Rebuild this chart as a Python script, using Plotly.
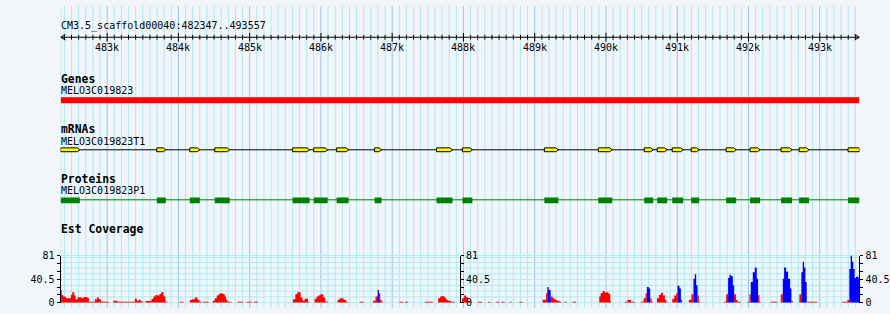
import plotly.graph_objects as go

# ---------------- data ----------------
REGION_START = 482347
REGION_END = 493557
REGION_LABEL = "CM3.5_scaffold00040:482347..493557"
TRACK_TITLES = ["Genes", "mRNAs", "Proteins", "Est Coverage"]
GENE_NAME = "MELO3C019823"
MRNA_NAME = "MELO3C019823T1"
PROTEIN_NAME = "MELO3C019823P1"

gene_start = [482347]
gene_end = [493557]

exon_start = [482347, 483697, 484159, 484510, 485603, 485898, 486220, 486753, 487622, 487986,
              489135, 489892, 490537, 490719, 490929, 491196, 491686, 492022, 492457, 492710, 493397]
exon_end = [482617, 483823, 484300, 484720, 485841, 486094, 486388, 486851, 487846, 488126,
            489332, 490088, 490663, 490859, 491084, 491308, 491827, 492163, 492612, 492850, 493557]

# EST coverage, strand 1 (red): bin start, bin end, depth
red_start = [482360, 482384, 482421, 482491, 482510, 482538, 482557, 482585, 482641, 482669, 482725, 482744,
             482828, 482856, 482884, 482912, 482940, 483085, 483145, 483388, 483416, 483444, 483472, 483538,
             483622, 483650, 483678, 483706, 483734, 483762, 483790, 483818, 484014, 484159, 484192, 484229,
             484267, 484295, 484341, 484482, 484510, 484538, 484566, 484594, 484622, 484650, 484668, 484687,
             484827, 484958, 485061, 485608, 485640, 485668, 485715, 485743, 485771, 485818, 485911, 485939,
             485967, 485995, 486033, 486061, 486234, 486262, 486318, 486356, 486542, 486729, 486766, 486795,
             486813, 486832, 486851, 487103, 487178, 487458, 487645, 487673, 487701, 487729, 487757, 487785,
             487822, 487981, 488009, 488037, 488065, 488084, 488206, 488346, 488458, 488533, 488645, 488785,
             489112, 489159, 489224, 489252, 489280, 489308, 489346, 489420, 489532, 489906, 489925, 489953,
             489981, 490005, 490033, 490061, 490266, 490303, 490350, 490490, 490528, 490556, 490621, 490640,
             490715, 490743, 490771, 490799, 490827, 490845, 490930, 490958, 490986, 491051, 491163, 491200,
             491285, 491303, 491658, 491686, 491798, 491826, 491845, 491986, 492013, 492135, 492154, 492313,
             492453, 492602, 492714, 492817, 493312, 493387]
red_end = [482384, 482421, 482491, 482510, 482538, 482557, 482585, 482641, 482669, 482725, 482744, 482828,
           482856, 482884, 482912, 482940, 483024, 483145, 483388, 483416, 483444, 483472, 483505, 483622,
           483650, 483678, 483706, 483734, 483762, 483790, 483818, 483846, 484070, 484192, 484229, 484267,
           484295, 484323, 484425, 484510, 484538, 484566, 484594, 484622, 484650, 484668, 484687, 484743,
           484907, 485033, 485117, 485640, 485668, 485715, 485743, 485771, 485818, 485836, 485939, 485967,
           485995, 486033, 486061, 486098, 486262, 486318, 486356, 486374, 486598, 486766, 486795, 486813,
           486832, 486851, 486869, 487159, 487224, 487570, 487673, 487701, 487729, 487757, 487785, 487822,
           487879, 488009, 488037, 488065, 488084, 488112, 488262, 488374, 488505, 488579, 488673, 488832,
           489159, 489177, 489252, 489280, 489308, 489346, 489374, 489448, 489579, 489925, 489953, 489981,
           490005, 490033, 490061, 490070, 490303, 490350, 490406, 490528, 490556, 490574, 490640, 490659,
           490743, 490771, 490799, 490827, 490845, 490864, 490958, 490986, 491004, 491070, 491200, 491228,
           491303, 491322, 491686, 491714, 491826, 491845, 491892, 492013, 492032, 492154, 492172, 492406,
           492481, 492621, 492742, 492967, 493387, 493415]
red_depth = [13.4, 10.6, 7.8, 13.4, 17.9, 12.3, 6.1, 9.5, 7.8, 10.0, 7.8, 1.7,
             6.1, 8.9, 6.1, 2.2, 1.7, 3.3, 1.7, 6.7, 3.3, 5.0, 2.2, 2.8,
             6.7, 10.6, 13.4, 12.3, 15.0, 18.4, 10.6, 1.7, 1.7, 4.5, 6.1, 8.9,
             5.0, 1.7, 1.7, 3.3, 7.8, 12.3, 15.6, 16.2, 15.0, 10.6, 5.6, 1.7,
             1.7, 1.7, 1.7, 6.1, 14.5, 17.9, 8.9, 3.3, 6.7, 1.7, 6.7, 10.6,
             12.8, 14.5, 8.9, 1.7, 5.0, 7.8, 4.5, 1.7, 1.7, 3.3, 10.6, 12.0,
             16.2, 5.0, 1.7, 1.7, 1.7, 1.7, 7.8, 10.6, 11.7, 8.9, 5.0, 3.3,
             1.7, 7.8, 12.3, 9.5, 3.3, 1.7, 1.7, 1.7, 1.7, 1.7, 1.7, 1.7,
             5.0, 16.2, 10.6, 7.8, 5.0, 3.3, 1.7, 1.7, 1.7, 10.6, 16.2, 20.0,
             17.0, 18.0, 15.6, 3.0, 1.7, 4.5, 1.7, 1.7, 7.8, 16.2, 7.8, 1.7,
             7.8, 13.4, 17.3, 12.3, 5.0, 1.7, 6.7, 12.3, 16.2, 5.0, 5.0, 14.5,
             12.3, 1.7, 1.7, 14.5, 14.5, 4.5, 1.7, 1.7, 14.5, 13.4, 1.7, 1.7,
             14.5, 3.3, 14.5, 1.7, 1.7, 4.5]

# EST coverage, strand 2 (blue)
blue_start = [482347, 486795, 489177, 489196, 490574, 490602, 491004, 491032, 491228, 491247, 491266,
              491714, 491733, 491752, 491780, 492032, 492060, 492088, 492116, 492481, 492500, 492528,
              492556, 492584, 492742, 492761, 492780, 492798, 493415, 493434, 493453, 493471, 493490,
              493508, 493546]
blue_end = [482360, 486813, 489196, 489224, 490602, 490621, 491032, 491051, 491247, 491266, 491285,
            491733, 491752, 491780, 491798, 492060, 492088, 492116, 492135, 492500, 492528, 492556,
            492584, 492602, 492761, 492780, 492798, 492817, 493434, 493453, 493471, 493490, 493508,
            493546, 493557]
blue_depth = [21.8, 21.8, 26.8, 21.8, 26.8, 24.6, 29.0, 24.6, 41.3, 49.0, 30.0,
              42.4, 48.0, 45.8, 30.0, 35.7, 52.5, 60.3, 41.3, 41.3, 60.3, 53.6,
              41.3, 24.6, 52.5, 70.3, 60.3, 35.7, 58.0, 81.0, 70.3, 58.0, 42.4,
              44.6, 41.3]

COV_MAX = 81
cov_tickvals = [0, 13.5, 27, 40.5, 54, 67.5, 81]
cov_ticktext = ["0", "", "", "40.5", "", "", "81"]

# ---------------- style / layout ----------------
W, H = 890, 314
X0_PX, X1_PX = 60.7, 860.4
BG = "#f2f5fa"
MINOR_GRID = "#aaecf2"
MAJOR_GRID = "#8ecaec"
FONT = "DejaVu Sans Mono"
BP_PX = (REGION_END - REGION_START) / (X1_PX - X0_PX)
COV_TOP_PX, COV_BOT_PX = 259.5, 308.5

fig = go.Figure()
shapes = []
annotations = []

# vertical grid
first = (REGION_START // 100 + 1) * 100
shapes.append(dict(type="line", xref="x", yref="paper", x0=REGION_START, x1=REGION_START, y0=0, y1=1,
                   line=dict(color=MINOR_GRID, width=1), layer="below"))
for pos in range(first, REGION_END + 1, 100):
    col = MAJOR_GRID if pos % 1000 == 0 else MINOR_GRID
    shapes.append(dict(type="line", xref="x", yref="paper", x0=pos, x1=pos, y0=0, y1=1,
                       line=dict(color=col, width=1), layer="below"))

# horizontal coverage grid
hlines = [259.5, 261.5] + [266.5 + 6 * k for k in range(8)]
for yy in hlines:
    shapes.append(dict(type="line", xref="x", yref="y", x0=REGION_START, x1=REGION_END, y0=yy, y1=yy,
                       line=dict(color=MINOR_GRID, width=1), layer="below"))

# ruler
AY = 32.5
shapes.append(dict(type="line", xref="x", yref="y", x0=REGION_START, x1=REGION_END, y0=AY, y1=AY,
                   line=dict(color="black", width=1)))
for xa, d in [(REGION_START, 1), (REGION_END, -1)]:
    for dy in (-3, 3):
        shapes.append(dict(type="line", xref="x", yref="y", x0=xa, x1=xa + d * 5 * BP_PX, y0=AY, y1=AY + dy,
                           line=dict(color="black", width=1)))
for pos in range(first, REGION_END + 1, 100):
    if pos % 1000 == 0:
        y0, y1 = 28, 37
        annotations.append(dict(xref="x", yref="y", x=pos, y=43, text=f"{pos // 1000}k", showarrow=False,
                                xanchor="center", yanchor="middle",
                                font=dict(family=FONT, size=10, color="black")))
    else:
        y0, y1 = 30, 35
    shapes.append(dict(type="line", xref="x", yref="y", x0=pos, x1=pos, y0=y0, y1=y1,
                       line=dict(color="black", width=1)))

# text labels
def label(text, y, bold=False):
    annotations.append(dict(xref="x", yref="y", x=REGION_START, y=y, xshift=-2,
                            text=f"<b>{text}</b>" if bold else text, showarrow=False,
                            xanchor="left", yanchor="middle",
                            font=dict(family=FONT, size=11.4 if bold else 10, color="black")))

label(REGION_LABEL, 21)
label(TRACK_TITLES[0], 75.5, True)
label(GENE_NAME, 88)
label(TRACK_TITLES[1], 128, True)
label(MRNA_NAME, 140.5)
label(TRACK_TITLES[2], 179.5, True)
label(PROTEIN_NAME, 192)
label(TRACK_TITLES[3], 232, True)

# gene bar
gx, gy = [], []
for s, e in zip(gene_start, gene_end):
    gx += [s, e, e, s, s, None]
    gy += [95, 95, 101, 101, 95, None]
fig.add_trace(go.Scatter(x=gx, y=gy, fill="toself", fillcolor="#ff0000", mode="lines",
                         line=dict(width=0, color="#ff0000"), hoverinfo="skip"))

# mRNA
fig.add_trace(go.Scatter(x=[min(exon_start), max(exon_end)], y=[149.5, 149.5], mode="lines",
                         line=dict(color="black", width=1), hoverinfo="skip"))
tip = 2.5 * BP_PX
mx, my = [], []
for s, e in zip(exon_start, exon_end):
    t = min(tip, (e - s) / 2)
    if e >= REGION_END:
        mx += [s, e, e, s, s, None]
        my += [147.5, 147.5, 151.5, 151.5, 147.5, None]
    else:
        mx += [s, e - t, e, e - t, s, s, None]
        my += [147.5, 147.5, 149.5, 151.5, 151.5, 147.5, None]
fig.add_trace(go.Scatter(x=mx, y=my, fill="toself", fillcolor="#ffff00", mode="lines",
                         line=dict(color="black", width=1), hoverinfo="skip"))

# protein
fig.add_trace(go.Scatter(x=[min(exon_start), max(exon_end)], y=[201.5, 201.5], mode="lines",
                         line=dict(color="#008000", width=1), hoverinfo="skip"))
px_, py_ = [], []
for s, e in zip(exon_start, exon_end):
    px_ += [s, e, e, s, s, None]
    py_ += [199, 199, 205, 205, 199, None]
fig.add_trace(go.Scatter(x=px_, y=py_, fill="toself", fillcolor="#008000", mode="lines",
                         line=dict(width=0, color="#008000"), hoverinfo="skip"))

# coverage as stepped filled areas
def steps(starts, ends, vals, color):
    xs, ys = [REGION_START], [0]
    n = len(starts)
    for i in range(n):
        xs.append(starts[i]); ys.append(vals[i])
        if i == n - 1 or starts[i + 1] != ends[i]:
            xs.append(ends[i]); ys.append(0)
    xs.append(REGION_END); ys.append(0)
    return go.Scatter(x=xs, y=ys, yaxis="y2", mode="lines", line=dict(width=0, color=color, shape="hv"),
                      fill="tozeroy", fillcolor=color, hoverinfo="skip")

fig.add_trace(steps(red_start, red_end, red_depth, "#ff0000"))
fig.add_trace(steps(blue_start, blue_end, blue_depth, "#0000ff"))
fig.add_trace(go.Scatter(x=[], y=[], yaxis="y3", hoverinfo="skip"))
fig.add_trace(go.Scatter(x=[], y=[], yaxis="y4", hoverinfo="skip"))

dom = [1 - COV_BOT_PX / H, 1 - COV_TOP_PX / H]
cov_axis = dict(range=[0, COV_MAX], tickvals=cov_tickvals, ticktext=cov_ticktext, showline=True,
                linecolor="black", linewidth=1, ticks="outside", ticklen=3, tickcolor="black",
                tickwidth=1, showgrid=False, zeroline=False, fixedrange=True,
                tickfont=dict(family=FONT, size=10, color="black"))

fig.update_layout(
    width=W, height=H, margin=dict(l=0, r=0, t=0, b=0, pad=0),
    paper_bgcolor=BG, plot_bgcolor="rgba(0,0,0,0)", showlegend=False,
    xaxis=dict(range=[REGION_START, REGION_END], domain=[X0_PX / W, X1_PX / W], visible=False,
               fixedrange=True),
    yaxis=dict(range=[H, 0], domain=[0, 1], visible=False, fixedrange=True),
    yaxis2=dict(domain=dom, anchor="x", side="left", **cov_axis),
    yaxis3=dict(overlaying="y2", anchor="free", position=(X0_PX + X1_PX) / 2 / W, side="right", **cov_axis),
    yaxis4=dict(overlaying="y2", anchor="x", side="right", **cov_axis),
    shapes=shapes, annotations=annotations,
)

fig.write_html("out.html", config={"displayModeBar": False, "staticPlot": True})
